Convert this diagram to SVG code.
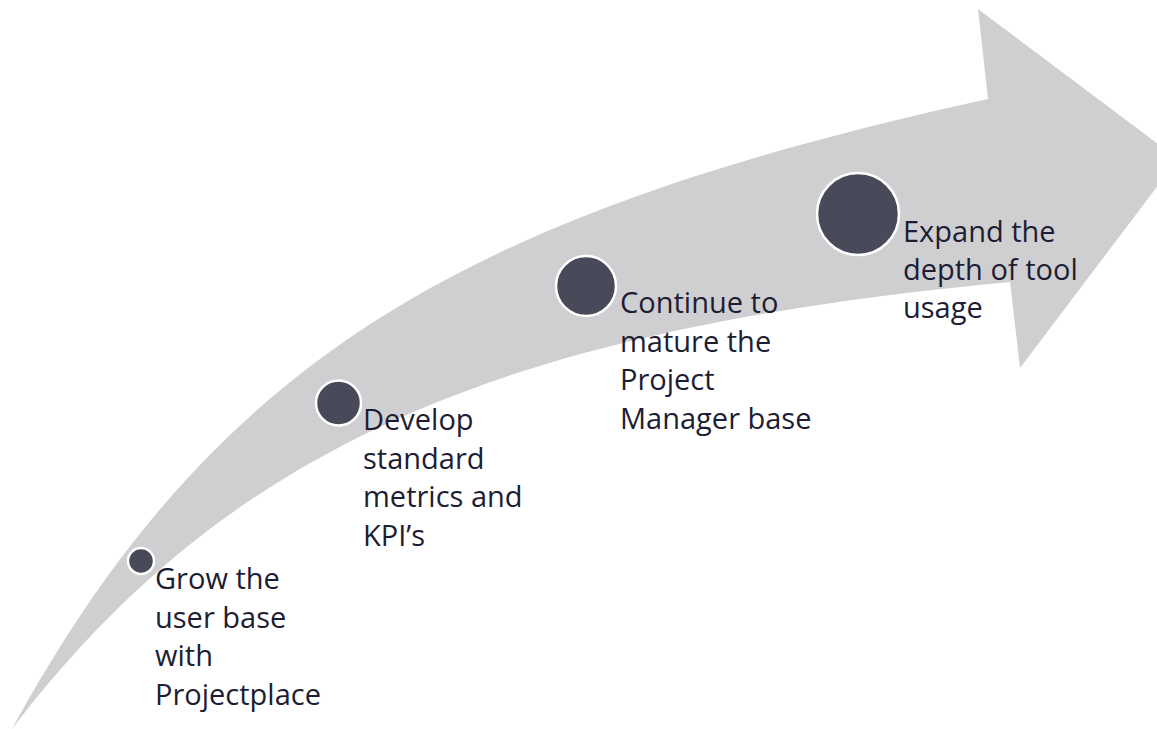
<svg xmlns="http://www.w3.org/2000/svg" width="1157" height="729" viewBox="0 0 1157 729">
<style>
.dot{fill:#484a5a;stroke:#ffffff;stroke-width:2.5}
.lbl{font-family:"Open Sans","Noto Sans","Liberation Sans",sans-serif;font-size:29px;fill:#1d1d33}
</style>
<rect width="1157" height="729" fill="#ffffff"/>
<g id="arrow">
<path fill="#cfcfd1" d="M 12,729 C 215,358 465,214 988,99 L 978,9 L 1178,159 L 1020,368 L 1010,282 C 498.9,329.7 227.1,447.3 12,729 Z"/>
</g>
<g id="connectors"></g>
<g id="step1">
<circle class="dot" cx="141" cy="561" r="13"/>
<text class="lbl" x="155"><tspan x="155" y="589">Grow the</tspan><tspan x="155" y="627.5">user base</tspan><tspan x="155" y="666">with</tspan><tspan x="155" y="705">Projectplace</tspan></text>
</g>
<g id="step2">
<circle class="dot" cx="338.5" cy="403" r="22.5"/>
<text class="lbl" x="363"><tspan x="363" y="430">Develop</tspan><tspan x="363" y="468.5">standard</tspan><tspan x="363" y="507">metrics and</tspan><tspan x="363" y="545.5">KPI’s</tspan></text>
</g>
<g id="step3">
<circle class="dot" cx="586" cy="286" r="30"/>
<text class="lbl" x="620"><tspan x="620" y="313">Continue to</tspan><tspan x="620" y="351.5">mature the</tspan><tspan x="620" y="390">Project</tspan><tspan x="620" y="428.5">Manager base</tspan></text>
</g>
<g id="step4">
<circle class="dot" cx="858" cy="214" r="41"/>
<text class="lbl" x="903"><tspan x="903" y="242">Expand the</tspan><tspan x="903" y="280">depth of tool</tspan><tspan x="903" y="318">usage</tspan></text>
</g>
</svg>
